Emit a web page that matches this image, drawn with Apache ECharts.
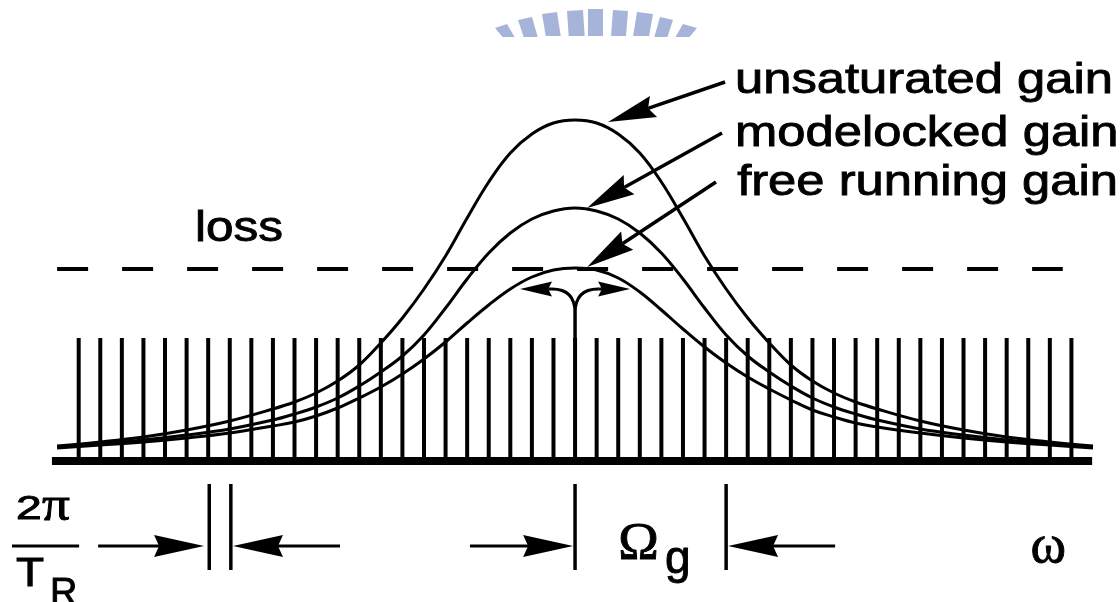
<!DOCTYPE html>
<html>
<head>
<meta charset="utf-8">
<title>Gain, loss and longitudinal modes</title>
<script src="https://cdn.jsdelivr.net/npm/echarts@6/dist/echarts.min.js"></script>
<style>
  html, body { margin: 0; padding: 0; background: #fff; }
  #chart { width: 1120px; height: 602px; }
</style>
</head>
<body>
<div id="chart"></div>
<script>
// Horizontal axis: optical frequency in units of the mode spacing 2π/T_R, measured from the gain centre.
// Vertical axis: gain / loss above the baseline (the negative range carries the spacing marks).

// Longitudinal cavity modes and their drawn heights
const modeIndex = [-23,-22,-21,-20,-19,-18,-17,-16,-15,-14,-13,-12,-11,-10,-9,-8,-7,-6,-5,-4,-3,-2,-1,
                   0,1,2,3,4,5,6,7,8,9,10,11,12,13,14,15,16,17,18,19,20,21,22,23];
const modeHeight = [123,123,123,123,123,123,123,123,123,123,123,123,123,123,123,123,123,123,123,123,123,123,123,
                    123,123,123,123,123,123,123,123,123,123,123,123,123,123,123,123,123,123,123,123,123,123,123,123];

// Gain profiles sampled across the band
const gainOffset = [-24,-22,-20,-18,-16,-14,-13,-12,-11,-10,-9,-8,-7,-6,-5,-4,-3,-2,-1,
                    0,1,2,3,4,5,6,7,8,9,10,11,12,13,14,16,18,20,22,24];
const unsaturatedGain = [15,19,24,31,40,52,59,68,80,96,118,143,172,205,243,279,308,327,338,
                         341,338,327,308,279,243,205,172,143,118,96,80,68,59,52,40,31,24,19,15];
const modelockedGain = [14,17,21,26,32,41,47,54,63,75,89,105,126,153,182,208,228,242,250,
                        253,250,242,228,208,182,153,126,105,89,75,63,54,47,41,32,26,21,17,14];
const freeRunningGain = [13,16,19,23,28,35,39,45,53,63,74,87,102,119,138,156,172,184,191,
                         193,191,183,169,151,132,114,98,84,72,61,51,44,38,34,28,23,19,16,13];

// Loss level and the extents of the loss line and the frequency baseline
const lossLevel = 192;
const lossSpan = [-24.0, 22.6];
const baselineSpan = [-24.24, 23.96];

// Spacing marks below the axis: one mode spacing (2π/T_R) and the gain half-width (Ω_g)
const spacingMarkModes = [-16.95, -15.95, 0, 7];

const INK = '#000';

// Annotation layout (frequency units, gain units)
const labelArrows = [            // [from u, from v, tip u, tip v]
  [6.95, 379, 1.53, 339],        // unsaturated gain
  [6.81, 328, 0.56, 253],        // modelocked gain
  [6.53, 279, 0.56, 194]         // free running gain
];
const spacingArrows = [
  [-22.10, -85, -17.19, -85],
  [-10.89, -85, -15.85, -85],
  [-4.87, -85, -0.09, -85],
  [12.05, -85, 7.09, -85]
];
const holeArrows = [
  [-1.07, 172, -2.55, 172],
  [1.07, 172, 2.55, 172]
];

const SANS = '"Liberation Sans", Arial, Helvetica, sans-serif';
const SERIF = '"Liberation Serif", "Times New Roman", serif';
const textItems = [
  { text: 'unsaturated gain', at: [7.41, 380], font: '43px ' + SANS, scaleX: 1.18 },
  { text: 'modelocked gain', at: [7.41, 327], font: '43px ' + SANS, scaleX: 1.18 },
  { text: 'free running gain', at: [7.51, 278], font: '43px ' + SANS, scaleX: 1.18 },
  { text: 'loss', at: [-17.61, 232], font: '43px ' + SANS, scaleX: 1.15 },
  { text: '2', at: [-25.9, -49], font: '33px ' + SANS, scaleX: 1.4 },
  { text: 'π', at: [-24.7, -46], font: '48px ' + SERIF, scaleX: 1.15 },
  { text: 'T', at: [-25.9, -114], font: '40px ' + SANS, scaleX: 1.15 },
  { text: 'R', at: [-24.33, -134], font: '38px ' + SANS, scaleX: 1.0 },
  { text: 'Ω', at: [2.0, -84], font: '52px ' + SERIF, scaleX: 1.05 },
  { text: 'g', at: [4.17, -99], font: '46px ' + SANS, scaleX: 1.0 },
  { text: 'ω', at: [21.1, -87], font: '54px ' + SERIF, scaleX: 1.0 }
];

// Decorative crest stripes along the top edge: [left, right, top-left y, top-right y, bottom y]
const crestStripes = [
  [495,507,28,24,37],[518,532,20,17,37],[542,557,14,12,36],[567,583,11,10,36],[588,603,9,9,36],
  [613,628,10,11,36],[637,653,12,14,36],[660,673,17,20,37],[683,697,24,28,37]
];

function pair(xs, ys) { return xs.map((x, i) => [x, ys[i]]); }

function arrowShapes(from, tip, head, lineWidth) {
  const dx = tip[0] - from[0], dy = tip[1] - from[1];
  const d = Math.hypot(dx, dy) || 1;
  const ux = dx / d, uy = dy / d, nx = -uy, ny = ux;
  const bx = tip[0] - ux * head.len, by = tip[1] - uy * head.len;
  const kx = tip[0] - ux * head.len * (1 - head.notch), ky = tip[1] - uy * head.len * (1 - head.notch);
  return [
    { type: 'line', shape: { x1: from[0], y1: from[1], x2: kx, y2: ky },
      style: { stroke: INK, lineWidth: lineWidth, fill: null } },
    { type: 'polygon',
      shape: { points: [tip, [bx + nx * head.half, by + ny * head.half], [kx, ky], [bx - nx * head.half, by - ny * head.half]] },
      style: { fill: INK } }
  ];
}

function arrowSeries(name, arrows, head, lineWidth) {
  return {
    type: 'custom', name: name, coordinateSystem: 'cartesian2d', silent: true,
    data: arrows, encode: { x: [0, 2], y: [1, 3] },
    renderItem: function (params, api) {
      const from = api.coord([api.value(0), api.value(1)]);
      const tip = api.coord([api.value(2), api.value(3)]);
      return { type: 'group', children: arrowShapes(from, tip, head, lineWidth) };
    }
  };
}

function lineSeries(name, data, width, extra) {
  return Object.assign({
    type: 'line', name: name, data: data, showSymbol: false, symbol: 'none', silent: true, clip: false,
    lineStyle: { color: INK, width: width }
  }, extra || {});
}

const chart = echarts.init(document.getElementById('chart'), null, { renderer: 'canvas' });

const option = {
  animation: false,
  backgroundColor: '#fff',
  grid: { left: 1, right: 27, top: 0, bottom: 0 },
  xAxis: { type: 'value', min: -26.6, max: 24, show: false },
  yAxis: { type: 'value', min: -141, max: 461, show: false },
  graphic: crestStripes.map(function (s) {
    const t = (596 - (s[0] + s[1]) / 2) * 0.08;
    return {
      type: 'polygon', silent: true, z: 0,
      shape: { points: [[s[0], s[2]], [s[1], s[3]], [s[1] + t, s[4]], [s[0] + t, s[4]]] },
      style: { fill: '#a5b4d8' }
    };
  }),
  series: [
    {
      type: 'custom', name: 'modes', coordinateSystem: 'cartesian2d', silent: true,
      data: pair(modeIndex, modeHeight),
      renderItem: function (params, api) {
        const base = api.coord([api.value(0), 0]);
        const top = api.coord([api.value(0), api.value(1)]);
        return { type: 'line', shape: { x1: base[0], y1: base[1], x2: top[0], y2: top[1] },
                 style: { stroke: INK, lineWidth: 4 } };
      }
    },
    lineSeries('unsaturated gain', pair(gainOffset, unsaturatedGain), 3, { smooth: 0.4 }),
    lineSeries('modelocked gain', pair(gainOffset, modelockedGain), 3, { smooth: 0.4 }),
    lineSeries('free running gain', pair(gainOffset, freeRunningGain), 3, { smooth: 0.4 }),
    lineSeries('loss', [[lossSpan[0], lossLevel], [lossSpan[1], lossLevel]], 4,
               { lineStyle: { color: INK, width: 4, type: [31, 34] } }),
    lineSeries('baseline', [[baselineSpan[0], 0], [baselineSpan[1], 0]], 8),
    {
      // spectral hole burnt at the lasing mode
      type: 'custom', name: 'hole', coordinateSystem: 'cartesian2d', silent: true,
      data: [[0, 120, 148, 172]],
      renderItem: function (params, api) {
        const bottom = api.coord([0, api.value(1)]);
        const stemTop = api.coord([0, api.value(2)]);
        const ctrl = api.coord([0, api.value(3)]);
        const kids = [{ type: 'line', shape: { x1: bottom[0], y1: bottom[1], x2: stemTop[0], y2: stemTop[1] },
                        style: { stroke: INK, lineWidth: 3.5 } }];
        holeArrows.forEach(function (a) {
          const end = api.coord([a[0], a[1]]);
          kids.push({ type: 'bezierCurve',
                      shape: { x1: stemTop[0], y1: stemTop[1], x2: end[0], y2: end[1], cpx1: ctrl[0], cpy1: ctrl[1] },
                      style: { stroke: INK, lineWidth: 3, fill: null } });
        });
        return { type: 'group', children: kids };
      }
    },
    arrowSeries('hole arrows', holeArrows, { len: 32, half: 7.5, notch: 0.12 }, 3),
    arrowSeries('label arrows', labelArrows, { len: 48, half: 11, notch: 0.12 }, 3.5),
    arrowSeries('spacing arrows', spacingArrows, { len: 50, half: 11, notch: 0.1 }, 3),
    {
      type: 'custom', name: 'spacing marks', coordinateSystem: 'cartesian2d', silent: true,
      data: spacingMarkModes.map(function (u) { return [u, -23, -109]; }),
      renderItem: function (params, api) {
        const a = api.coord([api.value(0), api.value(1)]);
        const b = api.coord([api.value(0), api.value(2)]);
        return { type: 'line', shape: { x1: a[0], y1: a[1], x2: b[0], y2: b[1] },
                 style: { stroke: INK, lineWidth: 3.5 } };
      }
    },
    lineSeries('fraction bar', [[-26.09, -85], [-22.98, -85]], 3),
    {
      type: 'custom', name: 'labels', coordinateSystem: 'cartesian2d', silent: true,
      data: textItems.map(function (t) { return t.at; }),
      renderItem: function (params, api) {
        const it = textItems[params.dataIndex];
        const p = api.coord([api.value(0), api.value(1)]);
        return {
          type: 'text', x: p[0], y: p[1], scaleX: it.scaleX,
          style: { text: it.text, font: it.font, fill: INK, textFill: INK,
                   stroke: INK, lineWidth: 0.9, textStroke: INK, textStrokeWidth: 0.9,
                   align: 'left', verticalAlign: 'middle', textAlign: 'left', textVerticalAlign: 'middle' }
        };
      }
    }
  ]
};

chart.setOption(option);
</script>
</body>
</html>
